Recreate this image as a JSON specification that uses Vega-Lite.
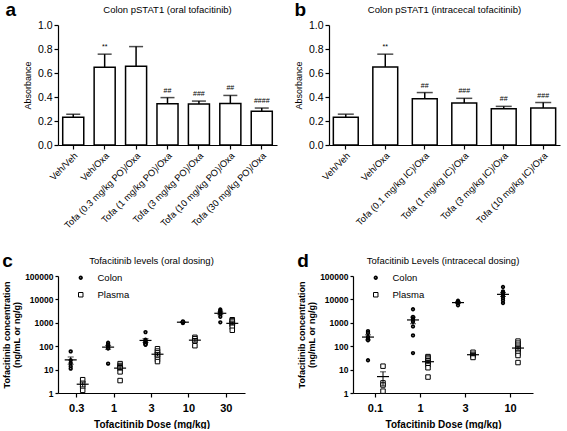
{
  "$schema": "https://vega.github.io/schema/vega-lite/v6.json",
  "padding": {"left": 2, "top": 0, "right": 2, "bottom": 0},
  "background": "white",
  "config": {
    "font": "Liberation Sans",
    "view": {"stroke": null},
    "axis": {"grid": false, "domainColor": "black", "tickColor": "black", "labelColor": "black", "titleColor": "black", "tickSize": 4, "domainWidth": 1.2, "tickWidth": 1.2}
  },
  "resolve": {"scale": {"shape": "independent", "size": "independent", "strokeWidth": "independent", "xOffset": "independent"}},
  "datasets": {
    "bars_a": [
      {"group": "Veh/Veh", "mean": 0.231, "upper": 0.257, "sig": ""},
      {"group": "Veh/Oxa", "mean": 0.647, "upper": 0.757, "sig": "**"},
      {"group": "Tofa (0.3 mg/kg PO)/Oxa", "mean": 0.657, "upper": 0.82, "sig": ""},
      {"group": "Tofa (1 mg/kg PO)/Oxa", "mean": 0.343, "upper": 0.395, "sig": "##"},
      {"group": "Tofa (3 mg/kg PO)/Oxa", "mean": 0.342, "upper": 0.366, "sig": "###"},
      {"group": "Tofa (10 mg/kg PO)/Oxa", "mean": 0.346, "upper": 0.413, "sig": "##"},
      {"group": "Tofa (30 mg/kg PO)/Oxa", "mean": 0.281, "upper": 0.308, "sig": "####"}
    ],
    "bars_b": [
      {"group": "Veh/Veh", "mean": 0.231, "upper": 0.257, "sig": ""},
      {"group": "Veh/Oxa", "mean": 0.651, "upper": 0.757, "sig": "**"},
      {"group": "Tofa (0.1 mg/kg IC)/Oxa", "mean": 0.386, "upper": 0.437, "sig": "##"},
      {"group": "Tofa (1 mg/kg IC)/Oxa", "mean": 0.349, "upper": 0.389, "sig": "###"},
      {"group": "Tofa (3 mg/kg IC)/Oxa", "mean": 0.303, "upper": 0.322, "sig": "##"},
      {"group": "Tofa (10 mg/kg IC)/Oxa", "mean": 0.309, "upper": 0.354, "sig": "###"}
    ],
    "levels_c": [
      {"dose": "0.3", "series": "Colon", "value": 60},
      {"dose": "0.3", "series": "Colon", "value": 25},
      {"dose": "0.3", "series": "Colon", "value": 19},
      {"dose": "0.3", "series": "Colon", "value": 14},
      {"dose": "0.3", "series": "Colon", "value": 11},
      {"dose": "0.3", "series": "Plasma", "value": 3.7},
      {"dose": "0.3", "series": "Plasma", "value": 2.6},
      {"dose": "0.3", "series": "Plasma", "value": 1.9},
      {"dose": "0.3", "series": "Plasma", "value": 1.3},
      {"dose": "1", "series": "Colon", "value": 140},
      {"dose": "1", "series": "Colon", "value": 120},
      {"dose": "1", "series": "Colon", "value": 100},
      {"dose": "1", "series": "Colon", "value": 90},
      {"dose": "1", "series": "Colon", "value": 80},
      {"dose": "1", "series": "Colon", "value": 18},
      {"dose": "1", "series": "Plasma", "value": 18},
      {"dose": "1", "series": "Plasma", "value": 15},
      {"dose": "1", "series": "Plasma", "value": 13},
      {"dose": "1", "series": "Plasma", "value": 12},
      {"dose": "1", "series": "Plasma", "value": 8},
      {"dose": "1", "series": "Plasma", "value": 3.4},
      {"dose": "3", "series": "Colon", "value": 400},
      {"dose": "3", "series": "Colon", "value": 190},
      {"dose": "3", "series": "Colon", "value": 165},
      {"dose": "3", "series": "Colon", "value": 150},
      {"dose": "3", "series": "Colon", "value": 140},
      {"dose": "3", "series": "Colon", "value": 130},
      {"dose": "3", "series": "Colon", "value": 120},
      {"dose": "3", "series": "Colon", "value": 115},
      {"dose": "3", "series": "Plasma", "value": 78},
      {"dose": "3", "series": "Plasma", "value": 62},
      {"dose": "3", "series": "Plasma", "value": 52},
      {"dose": "3", "series": "Plasma", "value": 42},
      {"dose": "3", "series": "Plasma", "value": 35},
      {"dose": "3", "series": "Plasma", "value": 27},
      {"dose": "3", "series": "Plasma", "value": 22},
      {"dose": "10", "series": "Colon", "value": 980},
      {"dose": "10", "series": "Colon", "value": 1020},
      {"dose": "10", "series": "Colon", "value": 1060},
      {"dose": "10", "series": "Colon", "value": 1100},
      {"dose": "10", "series": "Colon", "value": 1150},
      {"dose": "10", "series": "Plasma", "value": 240},
      {"dose": "10", "series": "Plasma", "value": 210},
      {"dose": "10", "series": "Plasma", "value": 170},
      {"dose": "10", "series": "Plasma", "value": 105},
      {"dose": "30", "series": "Colon", "value": 3700},
      {"dose": "30", "series": "Colon", "value": 3300},
      {"dose": "30", "series": "Colon", "value": 3000},
      {"dose": "30", "series": "Colon", "value": 2700},
      {"dose": "30", "series": "Colon", "value": 2300},
      {"dose": "30", "series": "Colon", "value": 1800},
      {"dose": "30", "series": "Colon", "value": 1050},
      {"dose": "30", "series": "Plasma", "value": 1350},
      {"dose": "30", "series": "Plasma", "value": 1250},
      {"dose": "30", "series": "Plasma", "value": 1150},
      {"dose": "30", "series": "Plasma", "value": 950},
      {"dose": "30", "series": "Plasma", "value": 800},
      {"dose": "30", "series": "Plasma", "value": 650},
      {"dose": "30", "series": "Plasma", "value": 480}
    ],
    "levels_d": [
      {"dose": "0.1", "series": "Colon", "value": 440},
      {"dose": "0.1", "series": "Colon", "value": 370},
      {"dose": "0.1", "series": "Colon", "value": 250},
      {"dose": "0.1", "series": "Colon", "value": 210},
      {"dose": "0.1", "series": "Colon", "value": 180},
      {"dose": "0.1", "series": "Colon", "value": 25},
      {"dose": "0.1", "series": "Plasma", "value": 14},
      {"dose": "0.1", "series": "Plasma", "value": 2.7},
      {"dose": "0.1", "series": "Plasma", "value": 2.2},
      {"dose": "0.1", "series": "Plasma", "value": 1.2},
      {"dose": "1", "series": "Colon", "value": 3800},
      {"dose": "1", "series": "Colon", "value": 1800},
      {"dose": "1", "series": "Colon", "value": 1500},
      {"dose": "1", "series": "Colon", "value": 1350},
      {"dose": "1", "series": "Colon", "value": 1100},
      {"dose": "1", "series": "Colon", "value": 700},
      {"dose": "1", "series": "Colon", "value": 290},
      {"dose": "1", "series": "Colon", "value": 51},
      {"dose": "1", "series": "Plasma", "value": 36},
      {"dose": "1", "series": "Plasma", "value": 33},
      {"dose": "1", "series": "Plasma", "value": 28},
      {"dose": "1", "series": "Plasma", "value": 24},
      {"dose": "1", "series": "Plasma", "value": 20},
      {"dose": "1", "series": "Plasma", "value": 16},
      {"dose": "1", "series": "Plasma", "value": 12},
      {"dose": "1", "series": "Plasma", "value": 4.8},
      {"dose": "3", "series": "Colon", "value": 8800},
      {"dose": "3", "series": "Colon", "value": 7800},
      {"dose": "3", "series": "Colon", "value": 7000},
      {"dose": "3", "series": "Colon", "value": 5600},
      {"dose": "3", "series": "Plasma", "value": 55},
      {"dose": "3", "series": "Plasma", "value": 45},
      {"dose": "3", "series": "Plasma", "value": 40},
      {"dose": "3", "series": "Plasma", "value": 33},
      {"dose": "10", "series": "Colon", "value": 34000},
      {"dose": "10", "series": "Colon", "value": 22000},
      {"dose": "10", "series": "Colon", "value": 19000},
      {"dose": "10", "series": "Colon", "value": 16000},
      {"dose": "10", "series": "Colon", "value": 13500},
      {"dose": "10", "series": "Colon", "value": 11000},
      {"dose": "10", "series": "Colon", "value": 9000},
      {"dose": "10", "series": "Colon", "value": 7000},
      {"dose": "10", "series": "Plasma", "value": 165},
      {"dose": "10", "series": "Plasma", "value": 135},
      {"dose": "10", "series": "Plasma", "value": 110},
      {"dose": "10", "series": "Plasma", "value": 90},
      {"dose": "10", "series": "Plasma", "value": 75},
      {"dose": "10", "series": "Plasma", "value": 65},
      {"dose": "10", "series": "Plasma", "value": 50},
      {"dose": "10", "series": "Plasma", "value": 40},
      {"dose": "10", "series": "Plasma", "value": 20}
    ]
  },
  "spacing": 20,
  "vconcat": [
    {
      "spacing": 17,
      "resolve": {"scale": {"shape": "independent", "size": "independent", "strokeWidth": "independent", "xOffset": "independent"}},
      "hconcat": [
        {
          "title": {"text": "a", "anchor": "start", "frame": "bounds", "fontSize": 19, "fontWeight": "bold", "color": "black", "offset": 0, "dy": 15, "dx": -18},
          "vconcat": [
            {
              "title": {"text": "Colon pSTAT1 (oral tofacitinib)", "anchor": "middle", "frame": "group", "fontSize": 9.5, "fontWeight": "normal", "color": "black", "offset": 6},
              "width": 219, "height": 120,
              "data": {"name": "bars_a"},
              "encoding": {
                "x": {"field": "group", "type": "nominal", "sort": null, "scale": {"paddingInner": 0.33, "paddingOuter": 0.15},
                  "axis": {"title": null, "labelAngle": -45, "labelAlign": "right", "labelBaseline": "top", "labelFontSize": 9.3, "labelPadding": 2}}
              },
              "layer": [
                {
                  "mark": {"type": "rule", "color": "black", "strokeWidth": 1.5},
                  "encoding": {
                    "y": {"field": "mean", "type": "quantitative", "scale": {"domain": [0, 1], "nice": false},
                      "axis": {"title": "Absorbance", "titleFontSize": 9, "titleFontWeight": "normal", "values": [0, 0.2, 0.4, 0.6, 0.8, 1.0], "format": ".1f", "labelFontSize": 10.5, "titlePadding": 5, "labelPadding": 2}},
                    "y2": {"field": "upper"}
                  }
                },
                {
                  "mark": {"type": "bar", "fill": "white", "stroke": "black", "strokeWidth": 1.5},
                  "encoding": {
                    "y": {"field": "mean", "type": "quantitative", "scale": {"domain": [0, 1], "nice": false},
                      "axis": {"title": "Absorbance", "titleFontSize": 9, "titleFontWeight": "normal", "values": [0, 0.2, 0.4, 0.6, 0.8, 1.0], "format": ".1f", "labelFontSize": 10.5, "titlePadding": 5, "labelPadding": 2}}
                  }
                },
                {
                  "mark": {"type": "tick", "color": "black", "thickness": 1.5, "size": 14},
                  "encoding": {
                    "y": {"field": "upper", "type": "quantitative", "scale": {"domain": [0, 1], "nice": false},
                      "axis": {"title": "Absorbance", "titleFontSize": 9, "titleFontWeight": "normal", "values": [0, 0.2, 0.4, 0.6, 0.8, 1.0], "format": ".1f", "labelFontSize": 10.5, "titlePadding": 5, "labelPadding": 2}}
                  }
                },
                {
                  "mark": {"type": "text", "color": "black", "fontSize": 7, "dy": -4, "baseline": "bottom"},
                  "encoding": {
                    "y": {"field": "upper", "type": "quantitative", "scale": {"domain": [0, 1], "nice": false},
                      "axis": {"title": "Absorbance", "titleFontSize": 9, "titleFontWeight": "normal", "values": [0, 0.2, 0.4, 0.6, 0.8, 1.0], "format": ".1f", "labelFontSize": 10.5, "titlePadding": 5, "labelPadding": 2}},
                    "text": {"field": "sig"}
                  }
                }
              ]
            }
          ]
        },
        {
          "title": {"text": "b", "anchor": "start", "frame": "bounds", "fontSize": 19, "fontWeight": "bold", "color": "black", "offset": 0, "dy": 15},
          "vconcat": [
            {
              "title": {"text": "Colon pSTAT1 (intracecal tofacitinib)", "anchor": "middle", "frame": "group", "fontSize": 9.5, "fontWeight": "normal", "color": "black", "offset": 6},
              "width": 231, "height": 120,
              "data": {"name": "bars_b"},
              "encoding": {
                "x": {"field": "group", "type": "nominal", "sort": null, "scale": {"paddingInner": 0.37, "paddingOuter": 0.11},
                  "axis": {"title": null, "labelAngle": -45, "labelAlign": "right", "labelBaseline": "top", "labelFontSize": 9.3, "labelPadding": 2}}
              },
              "layer": [
                {
                  "mark": {"type": "rule", "color": "black", "strokeWidth": 1.5},
                  "encoding": {
                    "y": {"field": "mean", "type": "quantitative", "scale": {"domain": [0, 1], "nice": false},
                      "axis": {"title": "Absorbance", "titleFontSize": 9, "titleFontWeight": "normal", "values": [0, 0.2, 0.4, 0.6, 0.8, 1.0], "format": ".1f", "labelFontSize": 10.5, "titlePadding": 5, "labelPadding": 2}},
                    "y2": {"field": "upper"}
                  }
                },
                {
                  "mark": {"type": "bar", "fill": "white", "stroke": "black", "strokeWidth": 1.5},
                  "encoding": {
                    "y": {"field": "mean", "type": "quantitative", "scale": {"domain": [0, 1], "nice": false},
                      "axis": {"title": "Absorbance", "titleFontSize": 9, "titleFontWeight": "normal", "values": [0, 0.2, 0.4, 0.6, 0.8, 1.0], "format": ".1f", "labelFontSize": 10.5, "titlePadding": 5, "labelPadding": 2}}
                  }
                },
                {
                  "mark": {"type": "tick", "color": "black", "thickness": 1.5, "size": 16},
                  "encoding": {
                    "y": {"field": "upper", "type": "quantitative", "scale": {"domain": [0, 1], "nice": false},
                      "axis": {"title": "Absorbance", "titleFontSize": 9, "titleFontWeight": "normal", "values": [0, 0.2, 0.4, 0.6, 0.8, 1.0], "format": ".1f", "labelFontSize": 10.5, "titlePadding": 5, "labelPadding": 2}}
                  }
                },
                {
                  "mark": {"type": "text", "color": "black", "fontSize": 7, "dy": -4, "baseline": "bottom"},
                  "encoding": {
                    "y": {"field": "upper", "type": "quantitative", "scale": {"domain": [0, 1], "nice": false},
                      "axis": {"title": "Absorbance", "titleFontSize": 9, "titleFontWeight": "normal", "values": [0, 0.2, 0.4, 0.6, 0.8, 1.0], "format": ".1f", "labelFontSize": 10.5, "titlePadding": 5, "labelPadding": 2}},
                    "text": {"field": "sig"}
                  }
                }
              ]
            }
          ]
        }
      ]
    },
    {
      "spacing": 52,
      "resolve": {"scale": {"shape": "independent", "size": "independent", "strokeWidth": "independent", "xOffset": "independent"}},
      "hconcat": [
        {
          "title": {"text": "c", "anchor": "start", "frame": "bounds", "fontSize": 19, "fontWeight": "bold", "color": "black", "offset": 0, "dy": 15},
          "resolve": {"scale": {"shape": "independent", "size": "independent", "strokeWidth": "independent", "xOffset": "independent"}},
          "vconcat": [
            {
              "title": {"text": "Tofacitinib levels (oral dosing)", "anchor": "middle", "frame": "group", "fontSize": 9.5, "fontWeight": "normal", "color": "black", "offset": 7},
              "width": 187, "height": 117,
              "data": {"name": "levels_c"},
              "encoding": {
                "x": {"field": "dose", "type": "nominal", "sort": ["0.3", "1", "3", "10", "30"], "scale": {"paddingInner": 0, "paddingOuter": 0},
                  "axis": {"title": "Tofacitinib Dose (mg/kg)", "labelAngle": 0, "labelFontSize": 11, "labelFontWeight": "bold", "titleFontSize": 10, "titleFontWeight": "bold", "labelPadding": 5, "titlePadding": 6}},
                "xOffset": {"field": "series", "type": "nominal", "scale": {"domain": ["Colon", "Plasma"], "paddingInner": 0, "paddingOuter": 0.56}}
              },
              "layer": [
                {
                  "mark": {"type": "point", "filled": false, "color": "black", "fill": "white", "opacity": 1},
                  "encoding": {
                    "y": {"field": "value", "type": "quantitative", "scale": {"type": "log", "domain": [1, 100000], "nice": false},
                      "axis": {"title": ["Tofacitinib concentration", "(ng/mL or ng/g)"], "values": [1, 10, 100, 1000, 10000, 100000], "format": "d", "labelFontSize": 8.5, "labelFontWeight": "bold", "titleFontSize": 9, "titleFontWeight": "bold", "titleLineHeight": 10.5, "titlePadding": 3, "tickSize": 3, "labelPadding": 2}},
                    "shape": {"field": "series", "type": "nominal", "scale": {"domain": ["Colon", "Plasma"], "range": ["circle", "square"]},
                      "legend": {"title": null, "orient": "none", "legendX": 18, "legendY": -3, "labelFontSize": 9.5, "rowPadding": 5, "labelOffset": 12, "padding": 0}},
                    "size": {"field": "series", "type": "nominal", "scale": {"domain": ["Colon", "Plasma"], "range": [3, 20]},
                      "legend": {"title": null, "orient": "none", "legendX": 18, "legendY": -3, "labelFontSize": 9.5, "rowPadding": 5, "labelOffset": 12, "padding": 0}},
                    "strokeWidth": {"field": "series", "type": "nominal", "scale": {"domain": ["Colon", "Plasma"], "range": [2.6, 1]},
                      "legend": {"title": null, "orient": "none", "legendX": 18, "legendY": -3, "labelFontSize": 9.5, "rowPadding": 5, "labelOffset": 12, "padding": 0}}
                  }
                },
                {
                  "mark": {"type": "errorbar", "extent": "stderr", "color": "black", "ticks": {"size": 6, "thickness": 1}, "rule": {"strokeWidth": 1}},
                  "encoding": {
                    "y": {"field": "value", "type": "quantitative", "scale": {"type": "log", "domain": [1, 100000], "nice": false},
                      "axis": {"title": ["Tofacitinib concentration", "(ng/mL or ng/g)"], "values": [1, 10, 100, 1000, 10000, 100000], "format": "d", "labelFontSize": 8.5, "labelFontWeight": "bold", "titleFontSize": 9, "titleFontWeight": "bold", "titleLineHeight": 10.5, "titlePadding": 3, "tickSize": 3, "labelPadding": 2}}
                  }
                },
                {
                  "mark": {"type": "tick", "color": "black", "thickness": 1.2, "size": 12},
                  "encoding": {
                    "y": {"aggregate": "mean", "field": "value", "type": "quantitative", "scale": {"type": "log", "domain": [1, 100000], "nice": false},
                      "axis": {"title": ["Tofacitinib concentration", "(ng/mL or ng/g)"], "values": [1, 10, 100, 1000, 10000, 100000], "format": "d", "labelFontSize": 8.5, "labelFontWeight": "bold", "titleFontSize": 9, "titleFontWeight": "bold", "titleLineHeight": 10.5, "titlePadding": 3, "tickSize": 3, "labelPadding": 2}}
                  }
                }
              ]
            }
          ]
        },
        {
          "title": {"text": "d", "anchor": "start", "frame": "bounds", "fontSize": 19, "fontWeight": "bold", "color": "black", "offset": 0, "dy": 15},
          "resolve": {"scale": {"shape": "independent", "size": "independent", "strokeWidth": "independent", "xOffset": "independent"}},
          "vconcat": [
            {
              "title": {"text": "Tofacitinib Levels (intracecal dosing)", "anchor": "middle", "frame": "group", "fontSize": 9.5, "fontWeight": "normal", "color": "black", "offset": 7},
              "width": 180, "height": 117,
              "data": {"name": "levels_d"},
              "encoding": {
                "x": {"field": "dose", "type": "nominal", "sort": ["0.1", "1", "3", "10"], "scale": {"paddingInner": 0, "paddingOuter": 0},
                  "axis": {"title": "Tofacitinib Dose (mg/kg)", "labelAngle": 0, "labelFontSize": 11, "labelFontWeight": "bold", "titleFontSize": 10, "titleFontWeight": "bold", "labelPadding": 5, "titlePadding": 6}},
                "xOffset": {"field": "series", "type": "nominal", "scale": {"domain": ["Colon", "Plasma"], "paddingInner": 0, "paddingOuter": 0.5}}
              },
              "layer": [
                {
                  "mark": {"type": "point", "filled": false, "color": "black", "fill": "white", "opacity": 1},
                  "encoding": {
                    "y": {"field": "value", "type": "quantitative", "scale": {"type": "log", "domain": [1, 100000], "nice": false},
                      "axis": {"title": ["Tofacitinib concentration", "(ng/mL or ng/g)"], "values": [1, 10, 100, 1000, 10000, 100000], "format": "d", "labelFontSize": 8.5, "labelFontWeight": "bold", "titleFontSize": 9, "titleFontWeight": "bold", "titleLineHeight": 10.5, "titlePadding": 3, "tickSize": 3, "labelPadding": 2}},
                    "shape": {"field": "series", "type": "nominal", "scale": {"domain": ["Colon", "Plasma"], "range": ["circle", "square"]},
                      "legend": {"title": null, "orient": "none", "legendX": 18, "legendY": -3, "labelFontSize": 9.5, "rowPadding": 5, "labelOffset": 12, "padding": 0}},
                    "size": {"field": "series", "type": "nominal", "scale": {"domain": ["Colon", "Plasma"], "range": [3, 20]},
                      "legend": {"title": null, "orient": "none", "legendX": 18, "legendY": -3, "labelFontSize": 9.5, "rowPadding": 5, "labelOffset": 12, "padding": 0}},
                    "strokeWidth": {"field": "series", "type": "nominal", "scale": {"domain": ["Colon", "Plasma"], "range": [2.6, 1]},
                      "legend": {"title": null, "orient": "none", "legendX": 18, "legendY": -3, "labelFontSize": 9.5, "rowPadding": 5, "labelOffset": 12, "padding": 0}}
                  }
                },
                {
                  "mark": {"type": "errorbar", "extent": "stderr", "color": "black", "ticks": {"size": 6, "thickness": 1}, "rule": {"strokeWidth": 1}},
                  "encoding": {
                    "y": {"field": "value", "type": "quantitative", "scale": {"type": "log", "domain": [1, 100000], "nice": false},
                      "axis": {"title": ["Tofacitinib concentration", "(ng/mL or ng/g)"], "values": [1, 10, 100, 1000, 10000, 100000], "format": "d", "labelFontSize": 8.5, "labelFontWeight": "bold", "titleFontSize": 9, "titleFontWeight": "bold", "titleLineHeight": 10.5, "titlePadding": 3, "tickSize": 3, "labelPadding": 2}}
                  }
                },
                {
                  "mark": {"type": "tick", "color": "black", "thickness": 1.2, "size": 12},
                  "encoding": {
                    "y": {"aggregate": "mean", "field": "value", "type": "quantitative", "scale": {"type": "log", "domain": [1, 100000], "nice": false},
                      "axis": {"title": ["Tofacitinib concentration", "(ng/mL or ng/g)"], "values": [1, 10, 100, 1000, 10000, 100000], "format": "d", "labelFontSize": 8.5, "labelFontWeight": "bold", "titleFontSize": 9, "titleFontWeight": "bold", "titleLineHeight": 10.5, "titlePadding": 3, "tickSize": 3, "labelPadding": 2}}
                  }
                }
              ]
            }
          ]
        }
      ]
    }
  ]
}
